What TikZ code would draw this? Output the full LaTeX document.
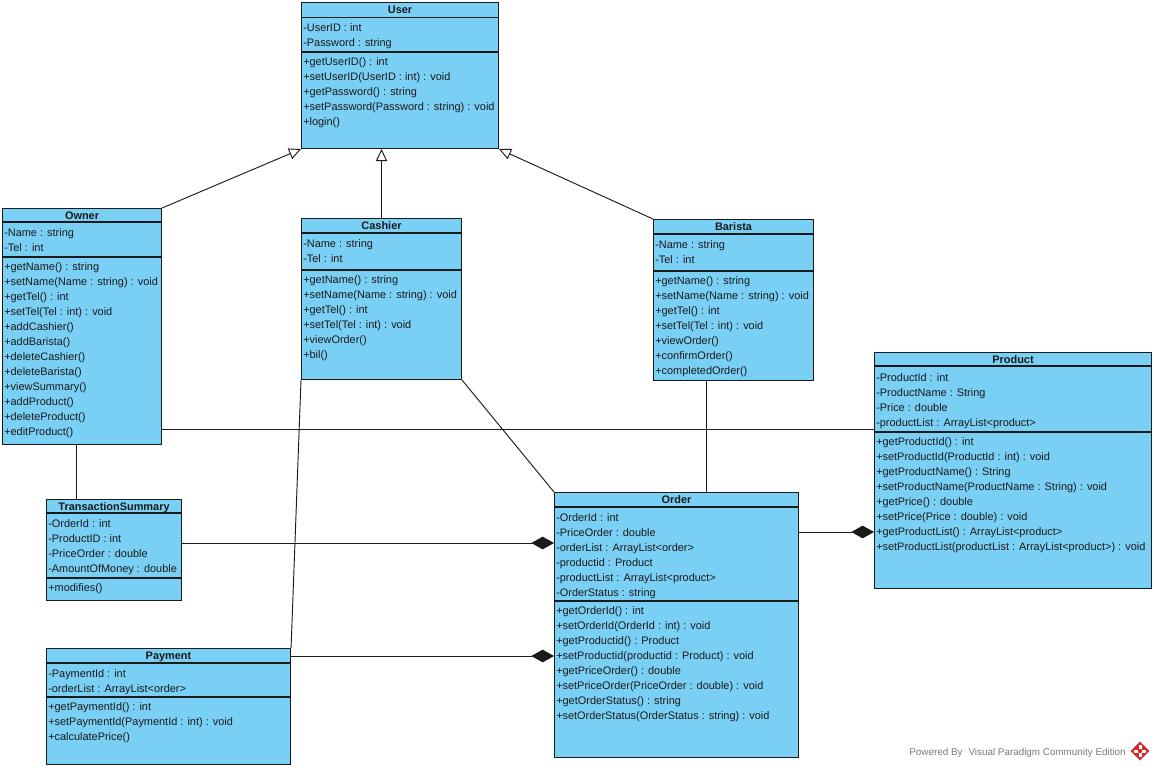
\documentclass[tikz,border=0pt]{standalone}
\usepackage{fontspec}
\setmainfont{Liberation Sans}
\usetikzlibrary{arrows.meta,calc}

\definecolor{umlfill}{HTML}{7ACFF5}
\definecolor{umlline}{HTML}{1A1A1A}
\definecolor{wmgray}{HTML}{7A7A7A}
\definecolor{vpred}{HTML}{D9262B}

\tikzset{
  classbox/.style={draw=umlline, fill=umlfill, line width=0.8pt, inner sep=0pt, anchor=north west},
  divider/.style={draw=umlline, line width=0.8pt},
  classtitle/.style={font=\fontsize{8.2}{10}\selectfont\bfseries, anchor=base, inner sep=0pt, text=umlline},
  member/.style={font=\fontsize{8.2}{10}\selectfont, anchor=base west, inner sep=0pt, text=umlline},
  link/.style={draw=umlline, line width=0.7pt},
  inherits/.style={link, -{Triangle[open, length=9pt, width=8.5pt, fill=white]}},
  composed/.style={link, -{Diamond[length=17pt, width=9.5pt]}},
}

% #1 name, #2 left, #3 top, #4 right, #5 bottom, #6 title, #7 header rule, #8 attribute rule
\newcommand\umlclass[8]{%
  \node[classbox, minimum width={(#4-#2)*0.75pt}, minimum height={(#5-#3)*0.75pt}] (#1) at (#2,#3) {};
  \draw[divider] ($(#1.north west)+(0,#7-#3)$) -- ($(#1.north east)+(0,#7-#3)$);
  \draw[divider] ($(#1.north west)+(0,#8-#3)$) -- ($(#1.north east)+(0,#8-#3)$);
  \node[classtitle] (#1-title) at ($(#1.north)+(0,{(#7-#3)/2+4})$) {#6};
}
% #1 class name, #2 tag, #3 x, #4 first baseline, #5 lines
\newcommand\umlmembers[5]{%
  \foreach \m [count=\i] in {#5} {\node[member] (#1-#2\i) at (#3,{#4+15*(\i-1)}) {\m};}
}

\begin{document}
\begin{tikzpicture}[x=0.75pt, y=-0.75pt]
\useasboundingbox (0,0) rectangle (1154,768);
\fill[white] (0,0) rectangle (1154,768);

% ---------- classes ----------
\umlclass{user}{301}{2}{498}{148}{User}{17.5}{52}
\umlmembers{user}{a}{303}{31.5}{-UserID : int, -Password : string}
\umlmembers{user}{m}{303}{65}{+getUserID() : int, +setUserID(UserID : int) : void, +getPassword() : string, +setPassword(Password : string) : void, +login()}

\umlclass{owner}{2}{208}{161}{444}{Owner}{222}{257}
\umlmembers{owner}{a}{4}{236}{-Name : string, -Tel : int}
\umlmembers{owner}{m}{4}{270}{+getName() : string, +setName(Name : string) : void, +getTel() : int, +setTel(Tel : int) : void, +addCashier(), +addBarista(), +deleteCashier(), +deleteBarista(), +viewSummary(), +addProduct(), +deleteProduct(), +editProduct()}

\umlclass{cashier}{301}{218}{461}{379}{Cashier}{233}{270}
\umlmembers{cashier}{a}{303}{247}{-Name : string, -Tel : int}
\umlmembers{cashier}{m}{303}{283}{+getName() : string, +setName(Name : string) : void, +getTel() : int, +setTel(Tel : int) : void, +viewOrder(), +bil()}

\umlclass{barista}{653}{219}{813}{380}{Barista}{234}{271}
\umlmembers{barista}{a}{655}{248}{-Name : string, -Tel : int}
\umlmembers{barista}{m}{655}{284}{+getName() : string, +setName(Name : string) : void, +getTel() : int, +setTel(Tel : int) : void, +viewOrder(), +confirmOrder(), +completedOrder()}

\umlclass{product}{874}{352}{1151}{588}{Product}{366}{432}
\umlmembers{product}{a}{876}{381}{-ProductId : int, -ProductName : String, -Price : double, -productList : ArrayList<product>}
\umlmembers{product}{m}{876}{445}{+getProductId() : int, +setProductId(ProductId : int) : void, +getProductName() : String, +setProductName(ProductName : String) : void, +getPrice() : double, +setPrice(Price : double) : void, +getProductList() : ArrayList<product>, +setProductList(productList : ArrayList<product>) : void}

\umlclass{order}{554}{492}{798}{757}{Order}{507}{601}
\umlmembers{order}{a}{556}{521}{-OrderId : int, -PriceOrder : double, -orderList : ArrayList<order>, -productid : Product, -productList : ArrayList<product>, -OrderStatus : string}
\umlmembers{order}{m}{556}{614}{+getOrderId() : int, +setOrderId(OrderId : int) : void, +getProductid() : Product, +setProductid(productid : Product) : void, +getPriceOrder() : double, +setPriceOrder(PriceOrder : double) : void, +getOrderStatus() : string, +setOrderStatus(OrderStatus : string) : void}

\umlclass{summary}{46}{499}{181}{600}{TransactionSummary}{513}{578}
\umlmembers{summary}{a}{48}{527}{-OrderId : int, -ProductID : int, -PriceOrder : double, -AmountOfMoney : double}
\umlmembers{summary}{m}{48}{591}{+modifies()}

\umlclass{payment}{46}{648}{290}{764}{Payment}{663}{697}
\umlmembers{payment}{a}{48}{677}{-PaymentId : int, -orderList : ArrayList<order>}
\umlmembers{payment}{m}{48}{710}{+getPaymentId() : int, +setPaymentId(PaymentId : int) : void, +calculatePrice()}

% ---------- generalizations ----------
\draw[inherits] (owner.north east) -- (user.south west);
\draw[inherits] (cashier.north) -- (cashier.north |- user.south);
\draw[inherits] (barista.north west) -- (user.south east);

% ---------- associations ----------
\draw[link] ($(owner.north east)+(0,221)$) -- ($(product.north west)+(0,77)$);
\draw[link] ($(owner.south west)+(74,0)$) -- ($(summary.north west)+(30,0)$);
\draw[link] (cashier.south east) -- (order.north west);
\draw[link] (cashier.south west) -- (payment.north east);
\draw[link] ($(barista.south west)+(53,0)$) -- ($(order.north west)+(152,0)$);

% ---------- compositions ----------
\draw[composed] ($(summary.north east)+(0,44)$) -- ($(order.north west)+(0,51)$);
\draw[composed] ($(payment.north east)+(0,8)$) -- ($(order.north west)+(0,164)$);
\draw[composed] ($(order.north east)+(0,40)$) -- ($(product.north west)+(0,180)$);

% ---------- footer ----------
\node[anchor=base east, inner sep=0pt, font=\fontsize{7.4}{9}\selectfont, text=wmgray] (wm) at (1126,755) {Powered By\hspace{0.6em}Visual Paradigm Community Edition};
\node[fill=vpred, rotate=45, minimum size=10pt, inner sep=0pt] (vplogo) at (1140,751) {};
\fill[white] ($(vplogo.center)+(-1.5,-6)$) rectangle ($(vplogo.center)+(1.5,6)$);
\fill[white] ($(vplogo.center)+(-6,-1.5)$) rectangle ($(vplogo.center)+(6,1.5)$);
\fill[vpred] (vplogo.center) circle (2.2);
\end{tikzpicture}
\end{document}
